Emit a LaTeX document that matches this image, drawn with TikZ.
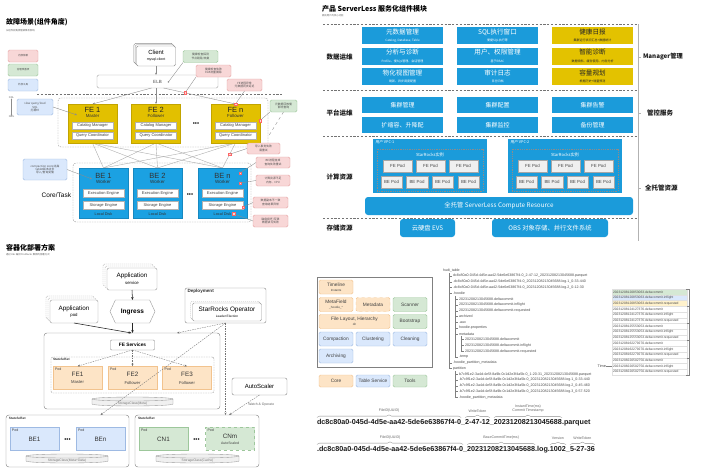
\documentclass[tikz,border=0pt]{standalone}
\usepackage{fontspec}
\setmainfont{Liberation Sans}
\newfontfamily\cjk{Noto Sans CJK SC}
\usetikzlibrary{shapes.geometric,shapes.symbols,shadows,decorations.pathreplacing,arrows.meta,calc}
\newcommand\fz[1]{\fontsize{#1}{\dimexpr#1pt*6/5\relax}\selectfont}
\definecolor{feY}{HTML}{E2C000}
\definecolor{feYD}{HTML}{C2A400}
\definecolor{beB}{HTML}{1BA1E2}
\definecolor{beBD}{HTML}{1788C0}
\definecolor{slB}{HTML}{1B9BDA}
\definecolor{slY}{HTML}{E3C200}
\definecolor{pinkF}{HTML}{F8D7D7}
\definecolor{pinkD}{HTML}{E6A4A4}
\definecolor{greenF}{HTML}{D5E8D4}
\definecolor{greenD}{HTML}{9DC79B}
\definecolor{blueF}{HTML}{DAE8FC}
\definecolor{blueD}{HTML}{9EBAE3}
\definecolor{orF}{HTML}{FDE4C6}
\definecolor{orD}{HTML}{F2C38E}
\definecolor{ylF}{HTML}{FFF2CC}

\newcommand\febox[4]{%
  \node[febx] (#1) at (#2,123.5) {};
  \node[font=\fz{7.5},text=black!85] (#1t) at (#2,109.8) {#3};
  \node[font=\fz{4.4},text=black!80] (#1r) at (#2,116.3) {#4};
  \node[wbox] (#1c) at (#2,125.5) {Catalog Manager};
  \node[wbox] (#1q) at (#2,135.5) {Query Coordinator};}
\newcommand\bebox[3]{%
  \node[bebx] (#1) at (#2,193) {};
  \node[font=\fz{7.5},text=black!80] (#1t) at (#2,175.5) {#3};
  \node[font=\fz{4.6},text=black!80] (#1r) at (#2,182.3) {Worker};
  \node[wbox,minimum height=8] (#1e) at (#2,193) {Execution Engine};
  \node[wbox,minimum height=8] (#1s) at (#2,205) {Storage Engine};
  \node[font=\fz{3.8},text=black!80] (#1d) at (#2,213.8) {Local Disk};}
\newcommand\vpcbox[3]{%
 \begin{scope}[xshift=#2]
  \node[fill=slB,minimum width=114,minimum height=54] (#1) at (430,166) {};
  \node[anchor=north west,font=\cjk\fz{3.8},text=white] (#1l) at (375.5,140.3) {#3};
  \node[draw=black!45,line width=0.35pt,dash pattern=on 1pt off 0.8pt,minimum width=106,minimum height=42] (#1s) at (430,170) {};
  \node[font=\cjk\fz{4.2},text=white] (#1sl) at (430,154.5) {StarRocks实例};
  \node[podb] (#1f1) at (397.5,166) {FE Pod};
  \node[podb] (#1f2) at (430.5,166) {FE Pod};
  \node[podb] (#1f3) at (463.5,166) {FE Pod};
  \node[podb,minimum width=21.5] (#1b1) at (391.5,182) {BE Pod};
  \node[podb,minimum width=21.5] (#1b2) at (417,182) {BE Pod};
  \node[podb,minimum width=21.5] (#1b3) at (442.5,182) {BE Pod};
  \node[podb,minimum width=21.5] (#1b4) at (468.5,182) {BE Pod};
 \end{scope}}
\newcommand\kpod[6]{% name,x,y,style,title,title y offset
  \node[#4] (#1) at (#2,#3) {};
  \node[anchor=north west,font=\fz{3.6},text=black!75] (#1p) at ([xshift=2pt,yshift=-2pt]#1.north west) {Pod};
  \node[font=\fz{6.3},text=black!80] (#1t) at (#2,#3+#6) {#5};}
\newcommand\kcyl[5]{% name,cx,cy,w,text
  \filldraw[fill=black!6,draw=black!40,line width=0.35pt] (#2-#4/2,#3-2.5) -- (#2-#4/2,#3+2.5)
     arc[start angle=180,end angle=0,x radius=#4/2,y radius=2] -- (#2+#4/2,#3-2.5)
     arc[start angle=0,end angle=-180,x radius=#4/2,y radius=2] -- cycle;
  \draw[black!40,line width=0.35pt] (#2-#4/2,#3-2.5) arc[start angle=180,end angle=0,x radius=#4/2,y radius=2];
  \node[font=\fz{3.3},text=black!55] (#1) at (#2,#3+1.8) {#5};}
\newcommand\trow[3]{% x, i, text
  \pgfmathsetmacro\tyy{270.2+5.78*#2}
  \draw[treel] (#1,\tyy) -- (#1+3.2,\tyy);
  \node[treet] (tr#2) at (#1+4,\tyy) {#3};}
\newcommand\tlrow[3]{% j, fill, text
  \pgfmathsetmacro\tly{289+5.73*(#1-0.5)}
  \node[tlr,fill=#2] (tl#1) at (649.5,\tly) {#3};}

\begin{document}
\begin{tikzpicture}[x=1pt,y=-1pt,
  every node/.style={inner sep=0pt,outer sep=0pt},
  ln/.style={draw=black!45,line width=0.35pt},
  arr/.style={ln,-{Stealth[length=2.4pt,width=1.9pt]}},
  karr/.style={draw=black!85,line width=0.55pt,-{Stealth[length=3pt,width=2.4pt]}},
  kdarr/.style={draw=black!55,line width=0.35pt,dash pattern=on 1.5pt off 1pt,-{Stealth[length=2.6pt,width=2pt]}},
  sep/.style={draw=black!55,line width=0.55pt,dash pattern=on 2.2pt off 1.6pt},
  tit/.style={anchor=west,font=\cjk\bfseries\fz{7}},
  subt/.style={anchor=west,font=\cjk\fz{2.4},text=black!60},
  ann/.style={rounded corners=1.5pt,minimum width=35,minimum height=12,align=center,font=\cjk\fz{2.8},text=black!70},
  pinkann/.style={ann,fill=pinkF,draw=pinkD},
  greenann/.style={ann,fill=greenF,draw=greenD},
  blueann/.style={ann,fill=blueF,draw=blueD},
  mk/.style={fill=pinkF,draw=red!60,line width=0.3pt,minimum size=2.4pt},
  grp/.style={draw=black!40,line width=0.4pt,dash pattern=on 1.5pt off 1pt,rounded corners=3pt},
  febx/.style={fill=feY,draw=feYD,minimum width=49,minimum height=39},
  bebx/.style={fill=beB,draw=beBD,minimum width=49,minimum height=50},
  wbox/.style={fill=white,draw=black!30,line width=0.3pt,minimum width=41,minimum height=7,font=\fz{4},text=black!75},
  slb/.style={fill=slB,minimum width=81,minimum height=17,text=white,align=center,font=\cjk\fz{6.6}},
  sly/.style={slb,fill=slY,text=black!85},
  slp/.style={slb,minimum height=16,font=\cjk\fz{6}},
  lab/.style={font=\cjk\bfseries\fz{6.5},text=black!90},
  podb/.style={fill=black!6,draw=black!35,line width=0.3pt,minimum width=29,minimum height=12,font=\fz{4.4},text=black!70},
  stackbox/.style={fill=white,draw=black!40,line width=0.4pt,rounded corners=2pt,align=center,font=\fz{6.3},
     double copy shadow={shadow xshift=-2pt,shadow yshift=2pt,fill=white,draw=black!30,dash pattern=on 1.2pt off 0.8pt}},
  opod/.style={fill=orF,draw=orD,line width=0.4pt,minimum width=49,minimum height=23},
  bpod/.style={opod,fill=blueF,draw=blueD},
  gpod/.style={opod,fill=greenF,draw=greenD},
  kbox/.style={draw=black!45,line width=0.45pt,rounded corners=3pt},
  kssl/.style={anchor=north west,font=\bfseries\fz{3.2},text=black!80},
  hb/.style={rounded corners=1.5pt,minimum width=34,minimum height=14,align=center,font=\fz{4.8},text=black!75,line width=0.4pt},
  hbo/.style={hb,fill=orF,draw=orD},
  hbb/.style={hb,fill=blueF,draw=blueD},
  hbg/.style={hb,fill=greenF,draw=greenD},
  treet/.style={font=\fz{3.6},text=black!70,anchor=west},
  treel/.style={draw=black!50,line width=0.3pt},
  tlr/.style={draw=black!12,line width=0.3pt,minimum width=75,minimum height=5.73,text width=73,inner xsep=1pt,align=left,font=\fz{3.3},text=black!70},
  fn/.style={font=\bfseries\fz{7.2},anchor=base west,text=black!90},
  brc/.style={draw=black!45,line width=0.35pt,decorate,decoration={brace,amplitude=2.5pt}},
  blab/.style={font=\fz{3.6},text=black!60,align=center}
]
\useasboundingbox (0,0) rectangle (709,474);
\fill[white] (0,0) rectangle (709,474);

%================ Section 1 =================
\node[tit] (t1) at (6,22.5) {故障场景(组件角度)};
\node[subt] (t1s) at (6,30.5) {从组件视角梳理故障及影响};
\node[pinkann,minimum width=30,font=\cjk\fz{2.5}] (lg1) at (23,56) {内部依赖};
\node[greenann,minimum width=30,font=\cjk\fz{2.5}] (lg2) at (23,70) {治理改善项};
\node[blueann,minimum width=30,font=\cjk\fz{2.5}] (lg3) at (23,85) {外部工具};

\node[fill=white,draw=black!45,line width=0.4pt,rounded corners=1.5pt,minimum width=39,minimum height=20,align=center,font=\fz{6},
  double copy shadow={shadow xshift=-1.3pt,shadow yshift=1.3pt,fill=white,draw=black!45}] (client) at (156,56) {Client\\[-1pt]{\fz{3.5}mysql-client}};
\node[draw=black!35,line width=0.4pt,rounded corners=1.5pt,minimum width=121,minimum height=13,font=\fz{4.5},text=black!70] (elb) at (157.5,81.5) {ELB};
\draw[sep] (37,94) -- (282,94);

\node[grp,minimum width=210,minimum height=49] (fegrp) at (163,122.5) {};
\node[grp,minimum width=178,minimum height=59] (begrp) at (162,192.5) {};

\foreach \f/\fx in {fe1/92.5,fe2/156,fen/235.5}{
  \foreach \b/\bx in {be1/103.5,be2/157.5,ben/222.5}{
    \draw[ln,black!35] (\fx,143) -- (\bx,168);}}

\febox{fe1}{92.5}{FE 1}{Master}
\febox{fe2}{156}{FE 2}{Follower}
\febox{fen}{235.5}{FE n}{Follower}
\node[font=\fz{6}] (fedots) at (196,124) {•••};

\bebox{be1}{103.5}{BE 1}
\bebox{be2}{157.5}{BE 2}
\bebox{ben}{222.5}{BE n}
\node[font=\fz{6}] (bedots) at (190,195) {•••};
\node[font=\fz{6.5},anchor=east] (core) at (71,195) {Core/Task};

\draw[arr] (client.south) -- (client.south |- elb.north);
\draw[arr] ([xshift=-6pt]elb.south) -- (fe1.north);
\draw[arr] (elb.south -| fe2.north) -- (fe2.north);
\draw[arr] ([xshift=6pt]elb.south) -- coordinate[pos=0.3] (m1p) (fen.north);
\path (fen.south) -- coordinate[pos=0.45] (m5p) (ben.north);

\node[mk] (m1) at (m1p) {};
\node[mk] (m2) at (fen.north) {};
\node[mk] (m3) at ([yshift=3pt]fen.east) {};
\node[mk] (m5) at (m5p) {};
\node[mk] (m6) at ([xshift=-7pt,yshift=-5pt]ben.north east) {};
\node[mk] (m7) at ([xshift=-7pt,yshift=10pt]ben.east) {};
\node[mk] (m8) at ([yshift=-2pt]bens.east) {};
\node[mk] (m9) at ([xshift=2.5pt]bend.east) {};
\coordinate (elbp) at (168,82.5);
\coordinate (be1p) at (92,179);
\coordinate (fe1p) at (77,115);

\node[greenann] (a1) at (200.5,56.5) {健康检查探测\\节点剔除/恢复};
\node[pinkann] (a2) at (213.5,71) {健康检查失败\\ELB流量摘除};
\node[pinkann] (a3) at (244.5,85) {FE进程异常\\元数据同步延迟};
\node[greenann,minimum width=27] (a4) at (283.5,106) {元数据回放慢\\影响查询};
\node[pinkann,minimum width=33,minimum height=11] (a5) at (263.5,148.5) {导入事务失败\\需重试};
\node[pinkann,minimum width=34,minimum height=11] (a6) at (273,162.5) {BE进程挂掉\\查询失败重试};
\node[pinkann,minimum width=34,minimum height=11] (a7) at (273,180.5) {计算资源不足\\内存、CPU};
\node[pinkann,minimum width=35,minimum height=11] (a8) at (270.5,202.5) {数据副本不一致\\查询结果异常};
\node[pinkann,minimum width=35,minimum height=12] (a9) at (270.5,221) {磁盘损坏/写满\\数据读写失败};
\node[blueann,minimum width=44,minimum height=21] (a10) at (45,169.5) {compaction score过高\\tablet版本过多\\导入/查询变慢};
\node[blueann,minimum width=36,minimum height=16] (a11) at (35,107) {slow query/load\\SQL\\打满FE};

\draw[ln,-{Circle[length=1.6pt]}] (a1.south west) -- (elbp);
\draw[ln] (a2.south west) -- (m1);
\draw[ln] (a3.south) -- (m2);
\draw[ln] (a4.south west) -- (m3);
\draw[ln,dashed] (a4.south) -- ([yshift=10pt]fegrp.south east);
\draw[ln] (a5.west) -- (m5);
\draw[ln] (a6.west) -- (m6);
\draw[ln] (a7.west) -- (m7);
\draw[ln] (a8.west) -- (m8);
\draw[ln] (a9.west) -- (m9);
\draw[arr] (a10.east) -- (be1p);
\draw[arr] (a11.east) -- (fe1p);

\node[font=\fz{2.6},text=black!60] (ddl) at (11.5,97.5) {DDL};
\node[font=\fz{2.6},text=black!60] (dml) at (11.5,117) {DML};
\draw[ln,{Stealth[length=1.6pt]}-{Stealth[length=1.6pt]}] (ddl.south) -- (dml.north);

%================ Section 2 =================
\node[tit] (t2) at (322,8.5) {产品 ServerLess 服务化组件模块};
\node[subt] (t2s) at (322,15.5) {面向用户的核心功能};
\foreach \yy in {24,90,136,218} \draw[sep] (323,\yy) -- (638,\yy);
\draw[black!30,line width=0.5pt] (638,24) -- (638,241);
\foreach \yy in {57,113,188} \draw[black!30,line width=0.5pt] (638,\yy) -- (641,\yy);
\node[lab,anchor=west,font=\cjk\bfseries\fz{6.2}] (rm1) at (643,57) {Manager管理};
\node[lab,anchor=west] (rm2) at (647,113) {管控服务};
\node[lab,anchor=west] (rm3) at (645,188) {全托管资源};
\node[lab] (l1) at (339.5,57) {数据运维};
\node[lab] (l2) at (339.5,113) {平台运维};
\node[lab] (l3) at (339.5,177) {计算资源};
\node[lab] (l4) at (339.5,228) {存储资源};

\node[slb] (d11) at (402.5,35.5) {元数据管理\\[-0.5pt]{\fz{3}Catalog, Database, Table}};
\node[slb] (d21) at (402.5,56) {分析与诊断\\[-0.5pt]{\fz{3}Profile、慢SQL管理、会话管理}};
\node[slb] (d31) at (402.5,76.5) {物化视图管理\\[-0.5pt]{\fz{3}刷新、异步调度配置}};
\node[slb] (d12) at (497.5,35.5) {SQL执行窗口\\[-0.5pt]{\fz{3}便捷SQL执行等}};
\node[slb] (d22) at (497.5,56) {用户、权限管理\\[-0.5pt]{\fz{3}基于RBAC}};
\node[slb] (d32) at (497.5,76.5) {审计日志\\[-0.5pt]{\fz{3}日志归档}};
\node[sly] (d13) at (592.5,35.5) {健康日报\\[-0.5pt]{\fz{3}集群运行状况汇总+数据统计}};
\node[sly] (d23) at (592.5,56) {智能诊断\\[-0.5pt]{\fz{3}数据倾斜、缓存使用、内存分析}};
\node[sly] (d33) at (592.5,76.5) {容量规划\\[-0.5pt]{\fz{3}根据历史+增量预测}};

\node[slp] (p11) at (402.5,105) {集群管理};
\node[slp] (p12) at (497.5,105) {集群配置};
\node[slp] (p13) at (592.5,105) {集群告警};
\node[slp] (p21) at (402.5,125) {扩缩容、升降配};
\node[slp] (p22) at (497.5,125) {集群监控};
\node[slp] (p23) at (592.5,125) {备份管理};

\vpcbox{vpca}{0}{用户 VPC-1}
\vpcbox{vpcb}{135}{用户 VPC-2}

\node[slb,minimum width=268,minimum height=18,rounded corners=3pt,font=\cjk\fz{6.3}] (csr) at (499,206) {全托管 ServerLess Compute Resource};
\node[slb,minimum width=55,minimum height=18,rounded corners=3pt,font=\cjk\fz{6.3}] (evs) at (427.5,228) {云硬盘 EVS};
\node[slb,minimum width=116,minimum height=18,rounded corners=3pt,font=\cjk\fz{6.3}] (obs) at (550,228) {OBS 对象存储、并行文件系统};

%================ Section 3 =================
\node[tit] (t3) at (6,247.5) {容器化部署方案};
\node[subt] (t3s) at (6,254.5) {通过 K8s 编排 StarRocks 集群的部署方式};

\node[stackbox,minimum width=50,minimum height=22] (appsvc) at (132,279) {Application\\[-1pt]{\fz{4.3}service}};
\node[stackbox,minimum width=48,minimum height=23] (apppod) at (74,311.5) {Application\\[-1pt]{\fz{4.3}pod}};
\node[signal,signal to=east and west,signal pointer angle=130,draw=black!40,line width=0.4pt,fill=white,minimum width=45,minimum height=23,font=\bfseries\fz{6.5}] (ingress) at (132.5,311.5) {Ingress};

\node[kbox,minimum width=176,minimum height=76] (k8s) at (132,371) {};
\node[draw=black!45,line width=0.4pt,fill=white,rounded corners=1pt,minimum width=44,minimum height=10,font=\bfseries\fz{4.8}] (fesvc) at (132.5,345) {FE Services};
\node[grp,rounded corners=1.5pt,minimum width=163,minimum height=36] (fess) at (132.5,375) {};
\node[kssl] (fessl) at (53,358.3) {StatefulSet};
\kpod{fe1p}{77.5}{377.7}{opod}{FE1}{-3.5}
\kpod{fe2p}{132.5}{377.7}{opod}{FE2}{-3.5}
\kpod{fe3p}{187}{377.7}{opod}{FE3}{-3.5}
\node[font=\fz{4.2},text=black!75] (fe1ps) at (77.5,382.5) {Master};
\node[font=\fz{4.2},text=black!75] (fe2ps) at (132.5,382.5) {Follower};
\node[font=\fz{4.2},text=black!75] (fe3ps) at (187,382.5) {Follower};
\kcyl{cy1}{132.5}{401.5}{81}{StorageClass(Meta)}

\node[kbox,rounded corners=2pt,minimum width=81,minimum height=35] (deploy) at (225.5,305.5) {};
\node[anchor=north west,font=\bfseries\fz{4.6},text=black!80] (deployl) at (187.5,289.5) {Deployment};
\node[fill=white,draw=black!40,line width=0.4pt,rounded corners=1.5pt,minimum width=69,minimum height=18,align=center,font=\fz{6.4},
  copy shadow={shadow xshift=-1.8pt,shadow yshift=1.8pt,fill=white,draw=black!30,dash pattern=on 1.2pt off 0.8pt}] (opr) at (227,312) {StarRocks Operator\\[-1.5pt]{\fz{3.2}Leader Election}};

\node[kbox,rounded corners=2pt,minimum width=55,minimum height=17,font=\fz{6}] (autosc) at (259.5,386.5) {AutoScaler};

\node[kbox,minimum width=123,minimum height=52] (bess) at (67.5,441) {};
\node[kssl] (bessl) at (9,417.5) {StatefulSet};
\kpod{be1p}{34.5}{438.5}{bpod}{BE1}{0.5}
\kpod{benp}{100.5}{438.5}{bpod}{BEn}{0.5}
\node[font=\fz{6}] (bsdots) at (67.5,440) {•••};
\kcyl{cy2}{67}{458.5}{82}{StorageClass(Meta+Data)}

\node[kbox,minimum width=124,minimum height=52] (cnss) at (197,441) {};
\node[kssl] (cnssl) at (138,417.5) {StatefulSet};
\kpod{cn1p}{163.5}{438.5}{gpod}{CN1}{0.5}
\kpod{cnmp}{230}{438.5}{gpod,dashed}{CNm}{-2}
\node[font=\fz{3.5},text=black!75] (cnmps) at (230,443.5) {AutoScaled};
\node[font=\fz{6}] (cndots) at (196.5,440) {•••};
\kcyl{cy3}{197.5}{458.5}{83}{StorageClass(Cache)}

\draw[karr] (appsvc.south) -- (ingress.north);
\draw[karr] (ingress.south) -- (ingress.south |- k8s.north);
\draw[karr] (apppod.south) -- ([xshift=-1pt]ingress.south |- k8s.north);
\draw[kdarr] (fesvc.south) -- (fe1p.north);
\draw[kdarr] (fesvc.south) -- (fe2p.north);
\draw[kdarr] (fesvc.south) -- (fe3p.north);
\draw[kdarr] (deploy.south) -- ([xshift=45pt]k8s.north);
\draw[kdarr] (deploy.south) -- ([xshift=33pt]bess.north);
\draw[kdarr] (deploy.south) -- (deploy.south |- cnss.north);
\draw[kdarr] (autosc.south) -- ([xshift=32pt]cnss.north) node[pos=0.5,right=4pt,font=\fz{3.4},text=black!60] (wlab) {Watch \& Operate};

%================ Section 4 =================
\node[draw=black!50,line width=0.5pt,minimum width=115,minimum height=90] (hudi) at (374.5,322) {};
\node[hbo] (tline) at (336,287) {Timeline\\[-1pt]{\fz{3}Instants}};
\node[hbo] (mfield) at (336,304.5) {MetaField\\[-1pt]{\fz{3}\_hoodie\_*}};
\node[hbo,dashed] (mdata) at (373,304.5) {Metadata};
\node[hbg] (scan) at (410,304.5) {Scanner};
\node[hbo,minimum width=71] (flay) at (354.5,321.5) {File Layout, Hierarchy\\[-1pt]{\fz{3}dir}};
\node[hbg] (boot) at (410,321.5) {Bootstrap};
\node[hbb] (comp) at (336,339) {Compaction};
\node[hbb] (clus) at (373,339) {Clustering};
\node[hbb] (clean) at (410,339) {Cleaning};
\node[hbb] (arch) at (336,356) {Archiving};
\node[hbo,minimum height=12] (lcore) at (336,381) {Core};
\node[hbb,minimum height=12] (lts) at (373,381) {Table Service};
\node[hbg,minimum height=12] (ltools) at (410,381) {Tools};

%================ Section 5 : tree =================
\node[treet] (troot) at (443,270.5) {hudi\_table};
\pgfmathsetmacro\ya{270.2+5.78*17}
\draw[treel] (449,273.3) -- (449,\ya);
\pgfmathsetmacro\yb{270.2+5.78*4+2.5}\pgfmathsetmacro\yc{270.2+5.78*15}
\draw[treel] (455,\yb) -- (455,\yc);
\pgfmathsetmacro\yd{270.2+5.78*11+2.5}\pgfmathsetmacro\ye{270.2+5.78*14}
\draw[treel] (461,\yd) -- (461,\ye);
\pgfmathsetmacro\yf{270.2+5.78*17+2.5}\pgfmathsetmacro\yg{270.2+5.78*22}
\draw[treel] (455,\yf) -- (455,\yg);
\trow{449}{1}{dc8c80a0-045d-4d5e-aa42-5de6e63867f4-0\_2-47-12\_20231208213045688.parquet}
\trow{449}{2}{.dc8c80a0-045d-4d5e-aa42-5de6e63867f4-0\_20231208213045688.log.1\_0-33-440}
\trow{449}{3}{.dc8c80a0-045d-4d5e-aa42-5de6e63867f4-0\_20231208213045688.log.2\_0-12-30}
\trow{449}{4}{.hoodie}
\trow{455}{5}{20231208213045688.deltacommit}
\trow{455}{6}{20231208213045688.deltacommit.inflight}
\trow{455}{7}{20231208213045688.deltacommit.requested}
\trow{455}{8}{archived}
\trow{455}{9}{.aux}
\trow{455}{10}{hoodie.properties}
\trow{455}{11}{metadata}
\trow{461}{12}{20231208213045688.deltacommit}
\trow{461}{13}{20231208213045688.deltacommit.inflight}
\trow{461}{14}{20231208213045688.deltacommit.requested}
\trow{455}{15}{.temp}
\trow{449}{16}{.hoodie\_partition\_metadata}
\trow{449}{17}{partition}
\trow{455}{18}{b7c9f1e2-3a4d-4e5f-8a9b-0c1d2e3f4a5b-0\_1-20-31\_20231208213045688.parquet}
\trow{455}{19}{.b7c9f1e2-3a4d-4e5f-8a9b-0c1d2e3f4a5b-0\_20231208213045688.log.1\_0-33-440}
\trow{455}{20}{.b7c9f1e2-3a4d-4e5f-8a9b-0c1d2e3f4a5b-0\_20231208213045688.log.2\_0-45-460}
\trow{455}{21}{.b7c9f1e2-3a4d-4e5f-8a9b-0c1d2e3f4a5b-0\_20231208213045688.log.3\_0-57-520}
\trow{455}{22}{.hoodie\_partition\_metadata}

%================ Section 6 : timeline =================
\tlrow{1}{greenF}{20231208120853063.deltacommit}
\tlrow{2}{blueF}{20231208120853063.deltacommit.inflight}
\tlrow{3}{ylF}{20231208120853063.deltacommit.requested}
\tlrow{4}{white}{20231208124127376.deltacommit}
\tlrow{5}{white}{20231208124127376.deltacommit.inflight}
\tlrow{6}{white}{20231208124127376.deltacommit.requested}
\tlrow{7}{white}{20231208125553053.deltacommit}
\tlrow{8}{white}{20231208125553053.deltacommit.inflight}
\tlrow{9}{white}{20231208125553053.deltacommit.requested}
\tlrow{10}{white}{20231208162279270.deltacommit}
\tlrow{11}{white}{20231208162279270.deltacommit.inflight}
\tlrow{12}{white}{20231208162279270.deltacommit.requested}
\tlrow{13}{white}{20231208220502750.deltacommit}
\tlrow{14}{white}{20231208220502750.deltacommit.inflight}
\tlrow{15}{white}{20231208220502750.deltacommit.requested}
\draw[treel] (686,289) -- (689,289) -- (689,375) -- (686,375);
\foreach \j in {3,6,9,12} \draw[treel] (689,289+5.73*\j) -- (687,289+5.73*\j);
\node[font=\fz{3.8},text=black!70,anchor=east] (timel) at ([xshift=-6pt]tl14.west) {Time};
\draw[treel] (timel.east) -- (tl14.west);

%================ Section 7 : file names =================
\node[fn] (p1) at (317,424.6) {dc8c80a0-045d-4d5e-aa42-5de6e63867f4-0};
\node[fn] (p2) at (p1.base east) {\_};
\node[fn] (p3) at (p2.base east) {2-47-12};
\node[fn] (p4) at (p3.base east) {\_};
\node[fn] (p5) at (p4.base east) {20231208213045688};
\node[fn] (p6) at (p5.base east) {.parquet};
\draw[brc] ([yshift=2pt]p1.north west) -- ([yshift=2pt]p1.north east) node[blab,midway,above=5pt] (bl1) {FileID(UUID)};
\draw[brc] ([yshift=2pt]p3.north west) -- ([yshift=2pt]p3.north east) node[blab,midway,above=5pt] (bl2) {WriteToken};
\draw[brc] ([yshift=2pt]p5.north west) -- ([yshift=2pt]p5.north east) node[blab,midway,above=5pt] (bl3) {InstantTime(ms)\\Commit Timestamp};

\node[fn] (q1) at (317,451.6) {.dc8c80a0-045d-4d5e-aa42-5de6e63867f4-0};
\node[fn] (q2) at (q1.base east) {\_};
\node[fn] (q3) at (q2.base east) {20231208213045688};
\node[fn] (q4) at (q3.base east) {.log.};
\node[fn] (q5) at (q4.base east) {1002};
\node[fn] (q6) at (q5.base east) {\_};
\node[fn] (q7) at (q6.base east) {5-27-36};
\draw[brc] ([yshift=2pt]q1.north west) -- ([yshift=2pt]q1.north east) node[blab,midway,above=5pt] (bl4) {FileID(UUID)};
\draw[brc] ([yshift=2pt]q3.north west) -- ([yshift=2pt]q3.north east) node[blab,midway,above=5pt] (bl5) {BaseCommitTime(ms)};
\draw[brc] ([yshift=2pt]q5.north west) -- ([yshift=2pt]q5.north east) node[blab,midway,above=5pt] (bl6) {Version};
\draw[brc] ([yshift=2pt]q7.north west) -- ([yshift=2pt]q7.north east) node[blab,midway,above=5pt] (bl7) {WriteToken};
\end{tikzpicture}
\end{document}
